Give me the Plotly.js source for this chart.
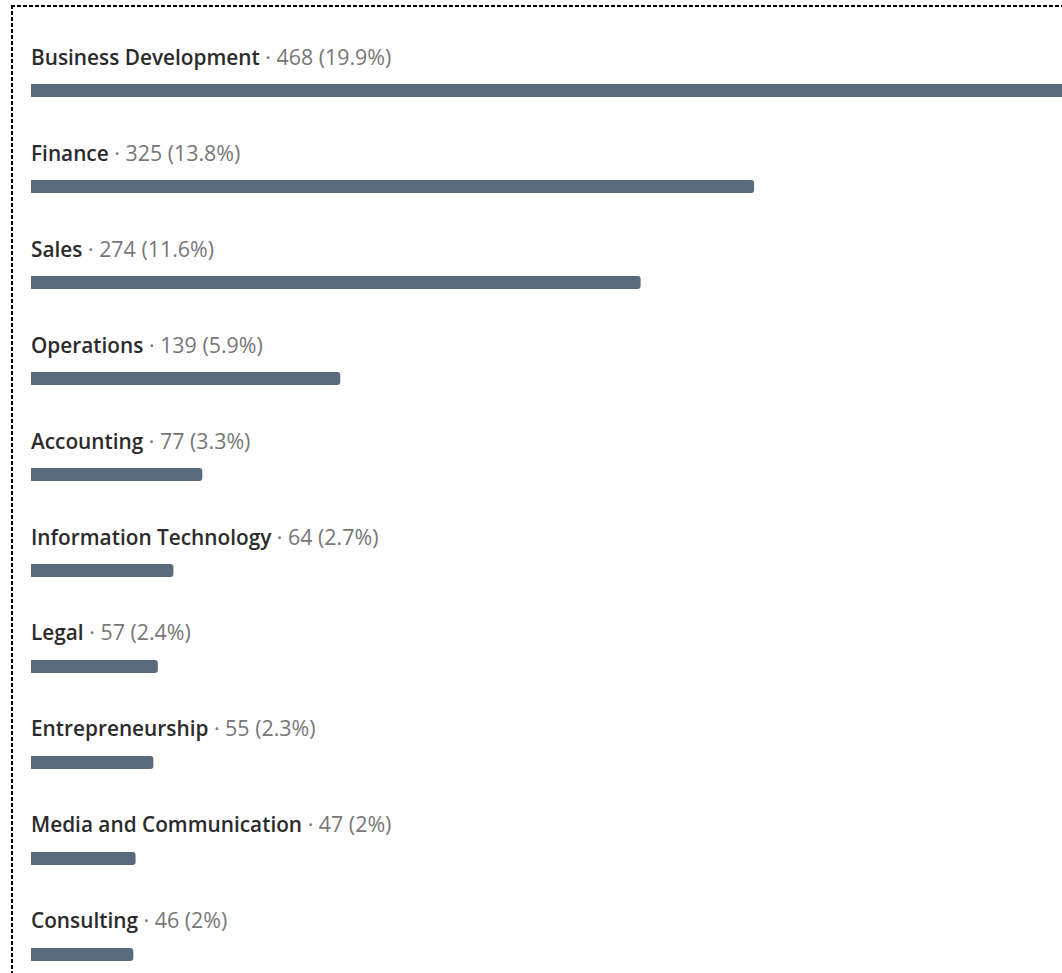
<!DOCTYPE html>
<html>
<head>
<meta charset="utf-8">
<script src="https://cdn.plot.ly/plotly-3.0.1.min.js"></script>
<style>
  html, body { margin:0; padding:0; background:#fff; overflow:hidden; }
  #wrap { position:relative; width:1062px; height:973px; }
  #chart { position:absolute; left:0; top:0; width:1062px; height:973px; }
  #ftop { position:absolute; left:11px; top:5px; width:1060px; height:2px; pointer-events:none;
          background: repeating-linear-gradient(to right, #000 0 4px, transparent 4px 6px); }
  #fleft { position:absolute; left:11px; top:5px; width:2px; height:980px; pointer-events:none;
          background: repeating-linear-gradient(to bottom, #000 0 4px, transparent 4px 6px); }
</style>
</head>
<body>
<div id="wrap">
  <div id="chart"></div>
  <div id="ftop"></div>
  <div id="fleft"></div>
</div>
<script>
const categories = ["Business Development","Finance","Sales","Operations","Accounting",
  "Information Technology","Legal","Entrepreneurship","Media and Communication","Consulting"];
const counts = [468, 325, 274, 139, 77, 64, 57, 55, 47, 46];
const percents = ["19.9%","13.8%","11.6%","5.9%","3.3%","2.7%","2.4%","2.3%","2%","2%"];

const barColor = "#596a7e";
const FONT = "Open Sans, Noto Sans, sans-serif";

const trace = {
  type: "bar",
  orientation: "h",
  x: counts,
  y: categories,
  width: 0.135,
  marker: { color: barColor, cornerradius: 3 },
  hoverinfo: "none"
};

const annotations = categories.map((c, i) => ({
  x: 0, xref: "x", y: c, yref: "y",
  xanchor: "left", yanchor: "middle",
  xshift: -2, yshift: 34.5,
  showarrow: false,
  align: "left",
  text: "<span style='font-weight:600;color:#2b2b2b'>" + c + "</span><span style='color:#777777;font-size:21.4px'> · " + counts[i] + " (" + percents[i] + ")</span>",
  font: { family: FONT, size: 20.8, color: "#2b2b2b" }
}));

const layout = {
  width: 1062, height: 973,
  margin: { l: 31, r: 0, t: 0, b: 0, pad: 0 },
  paper_bgcolor: "#fff", plot_bgcolor: "#fff",
  showlegend: false,
  xaxis: { range: [0, 463.4], visible: false, fixedrange: true },
  yaxis: { type: "category", categoryorder: "array", categoryarray: categories,
           range: [9.193, -0.943], visible: false, fixedrange: true },
  annotations: annotations,
  font: { family: FONT }
};

Plotly.newPlot("chart", [trace], layout, { displayModeBar: false, staticPlot: true });
</script>
</body>
</html>
